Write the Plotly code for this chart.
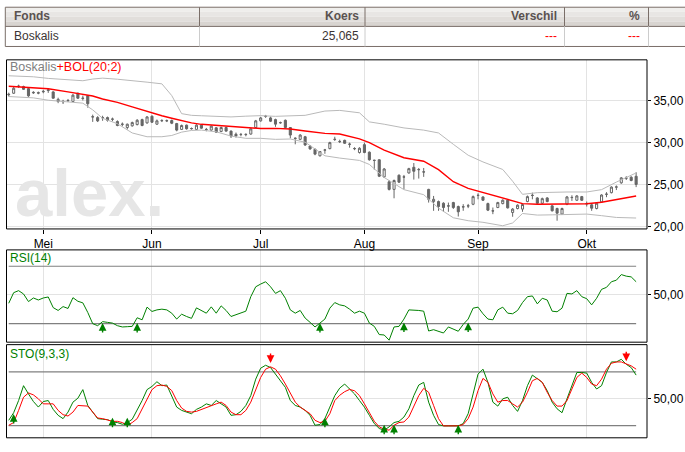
import pandas as pd
import plotly.graph_objects as go

W, H = 685, 452
FONT = "Liberation Sans, Arial, sans-serif"

# handelsdagen (Euronext, 2011)
dates = pd.bdate_range('2011-04-19', '2011-10-17', freq='C',
                       holidays=['2011-04-22', '2011-04-25']).strftime('%Y-%m-%d').tolist()

month_days = ['2011-05-02', '2011-06-01', '2011-07-01', '2011-08-01', '2011-09-01', '2011-10-03']
month_names = ['Mei', 'Jun', 'Jul', 'Aug', 'Sep', 'Okt']

koers_open = [35.70, 35.88, 36.70, 36.67, 36.43, 35.92, 35.95, 36.05, 36.20, 36.04,
              34.90, 34.92, 34.98, 34.90, 35.88, 35.30, 35.60, 33.05, 32.98, 32.95,
              32.98, 32.78, 32.51, 32.20, 31.80, 32.00, 32.15, 32.74, 32.35, 33.14,
              32.20, 32.60, 32.62, 32.63, 32.27, 31.57, 32.08, 31.65, 31.57, 32.08,
              31.55, 31.49, 31.76, 31.33, 31.80, 31.37, 31.00, 30.98, 30.95, 31.02,
              31.80, 32.59, 33.12, 32.94, 32.74, 32.36, 32.66, 31.80, 30.53, 30.39,
              30.70, 29.60, 29.21, 28.43, 29.10, 29.29, 30.40, 30.14, 30.27, 29.82,
              29.30, 28.82, 29.76, 28.86, 27.90, 27.96, 25.92, 25.33, 24.43, 26.12,
              25.92, 26.39, 27.06, 26.80, 26.52, 24.43, 22.98, 22.98, 22.78, 22.47,
              22.86, 22.39, 22.33, 22.45, 22.66, 23.73, 23.53, 22.74, 21.88, 22.27,
              22.74, 23.14, 21.68, 22.15, 22.08, 22.98, 23.73, 23.41, 22.78, 23.41,
              22.47, 22.15, 21.49, 22.66, 23.45, 23.14, 23.57, 22.74, 22.59, 22.15,
              22.94, 23.84, 24.04, 24.70, 25.21, 25.76, 25.88, 25.99]
koers_high = [35.95, 36.66, 36.90, 36.78, 36.55, 36.12, 36.08, 36.27, 36.47, 36.12,
              35.35, 35.10, 35.20, 35.80, 35.95, 35.60, 35.65, 33.33, 33.15, 33.20,
              33.10, 32.98, 32.65, 32.40, 32.27, 32.50, 32.80, 32.85, 33.15, 33.25,
              32.75, 32.78, 32.75, 32.75, 32.35, 32.15, 32.15, 31.80, 32.20, 32.15,
              31.75, 32.05, 31.85, 31.90, 31.90, 31.45, 31.20, 31.15, 31.10, 31.75,
              32.70, 33.05, 33.30, 33.10, 32.85, 32.50, 32.75, 31.85, 30.62, 31.00,
              30.80, 29.70, 29.30, 29.00, 29.25, 30.10, 30.70, 30.35, 30.35, 30.00,
              29.45, 29.45, 30.00, 28.95, 27.96, 28.00, 26.98, 25.53, 25.60, 26.20,
              26.15, 27.00, 27.57, 26.98, 26.98, 24.50, 23.65, 23.10, 22.90, 22.86,
              22.95, 22.50, 22.67, 22.70, 23.70, 23.96, 23.60, 22.85, 22.27, 22.95,
              23.25, 23.25, 22.20, 22.65, 22.75, 23.70, 24.04, 23.50, 23.45, 23.50,
              22.55, 22.25, 22.25, 23.65, 23.73, 23.75, 23.65, 22.98, 22.70, 22.90,
              23.85, 24.10, 24.80, 24.90, 25.90, 26.00, 26.00, 26.47]
koers_low = [35.50, 35.80, 36.52, 36.27, 35.45, 35.80, 35.76, 35.88, 35.92, 35.25,
             34.70, 34.60, 34.85, 34.85, 35.20, 35.02, 34.16, 32.47, 32.45, 32.60,
             32.50, 32.55, 31.95, 31.95, 31.57, 31.90, 32.05, 31.95, 32.25, 32.35,
             32.10, 32.45, 32.45, 32.20, 31.35, 31.50, 31.55, 31.55, 31.50, 31.65,
             31.35, 31.40, 31.15, 31.25, 31.30, 30.55, 30.60, 30.75, 30.75, 30.95,
             31.70, 32.50, 32.95, 32.45, 31.88, 32.25, 31.70, 30.51, 29.80, 30.30,
             29.60, 29.15, 28.50, 28.35, 28.67, 29.20, 30.20, 29.95, 29.85, 29.40,
             29.10, 28.70, 28.74, 27.85, 26.78, 25.90, 25.80, 24.30, 23.37, 25.20,
             24.45, 26.30, 25.60, 25.72, 25.92, 22.86, 21.88, 21.88, 21.76, 21.76,
             22.10, 21.20, 21.88, 22.20, 22.55, 23.25, 23.05, 21.85, 21.48, 22.20,
             22.65, 22.15, 21.17, 22.05, 21.76, 22.90, 23.25, 22.70, 22.70, 22.90,
             21.80, 20.70, 21.40, 22.55, 23.06, 23.05, 23.05, 22.39, 21.88, 22.05,
             22.85, 23.50, 23.95, 24.35, 25.10, 25.55, 25.40, 24.70]
koers_close = [35.75, 36.47, 36.72, 36.35, 35.57, 35.98, 35.90, 36.10, 36.28, 35.29,
               35.15, 34.88, 35.02, 35.65, 35.29, 35.27, 34.63, 33.08, 32.59, 32.98,
               32.66, 32.80, 32.04, 32.18, 32.19, 32.39, 32.66, 32.04, 33.06, 32.43,
               32.59, 32.63, 32.60, 32.31, 31.49, 32.04, 31.65, 31.68, 32.08, 31.72,
               31.57, 31.96, 31.25, 31.80, 31.37, 30.78, 30.80, 30.96, 30.98, 31.64,
               32.59, 32.94, 33.14, 32.55, 32.20, 32.38, 31.80, 30.90, 30.50, 30.90,
               29.72, 29.25, 28.63, 28.94, 29.13, 30.00, 30.38, 30.12, 29.92, 29.80,
               29.28, 29.33, 28.82, 27.96, 27.88, 26.00, 26.86, 24.43, 25.49, 25.29,
               25.90, 26.90, 26.59, 26.78, 26.50, 23.25, 23.25, 22.39, 22.27, 22.45,
               22.27, 21.76, 22.36, 22.47, 23.57, 23.71, 23.14, 21.96, 21.86, 22.86,
               23.14, 22.23, 22.08, 22.55, 22.63, 23.57, 23.71, 22.78, 23.33, 22.98,
               21.88, 21.60, 22.15, 23.53, 23.47, 23.65, 23.14, 22.72, 22.19, 22.78,
               23.76, 23.86, 24.70, 24.72, 25.80, 25.78, 25.49, 25.02]

bol_idx = [0, 5, 8, 12, 15, 17, 19, 22, 25, 28, 31, 33, 35, 37, 39, 42, 45, 48, 51, 54, 57, 60,
           64, 67, 71, 73, 76, 80, 84, 87, 90, 93, 96, 100, 102, 104, 107, 110, 113, 117, 120, 123, 127]
bol_mid = [36.71, 36.55, 36.42, 36.05, 35.78, 35.55, 35.20, 34.80, 34.25, 33.70, 33.20, 32.90, 32.60,
           32.35, 32.18, 32.05, 31.95, 31.82, 31.68, 31.70, 31.62, 31.38, 31.10, 31.02, 30.45, 30.00,
           29.10, 28.20, 27.78, 26.78, 25.35, 24.55, 24.05, 23.45, 23.05, 22.74, 22.66, 22.66, 22.66,
           22.72, 22.90, 23.25, 23.65]
bol_up = [37.96, 37.84, 37.65, 37.45, 37.37, 37.57, 37.68, 37.55, 37.33, 37.20, 37.00, 35.60, 33.45,
          33.25, 33.20, 33.12, 33.06, 33.15, 33.21, 33.13, 33.20, 33.25, 33.76, 33.84, 33.55, 32.47,
          32.19, 31.75, 31.49, 31.15, 29.80, 28.50, 27.70, 26.80, 25.40, 23.84, 24.04, 24.10, 24.12,
          24.12, 24.40, 25.30, 26.39]
bol_low = [35.49, 35.33, 35.05, 34.80, 34.70, 33.90, 32.90, 32.25, 31.15, 30.70, 30.70, 30.85, 31.25,
           31.45, 31.49, 31.29, 30.78, 30.51, 30.51, 30.39, 30.43, 30.05, 28.43, 28.16, 27.88, 27.40,
           25.85, 24.40, 23.80, 22.20, 21.05, 20.70, 20.51, 20.10, 20.43, 21.56, 21.37, 21.40, 21.41,
           21.49, 21.30, 21.09, 21.02]

rsi = [44.2, 51.6, 53.0, 50.7, 45.4, 47.9, 46.5, 47.9, 48.6, 41.2,
       39.2, 41.9, 40.6, 48.1, 45.6, 44.5, 37.8, 30.0, 28.6, 31.4,
       30.9, 30.4, 28.6, 27.7, 27.9, 28.1, 34.1, 32.7, 41.5, 38.5,
       39.6, 40.1, 39.6, 37.3, 33.2, 36.6, 35.0, 33.7, 41.0, 39.2,
       37.3, 41.7, 37.3, 42.4, 39.2, 35.0, 36.2, 37.3, 38.7, 48.8,
       55.7, 57.6, 59.2, 55.7, 51.1, 53.0, 47.7, 39.6, 37.3, 39.2,
       33.9, 30.9, 27.7, 30.4, 33.2, 40.8, 44.7, 43.1, 42.4, 40.1,
       37.3, 38.7, 37.3, 30.4, 28.1, 22.4, 22.1, 18.5, 27.7, 28.1,
       33.2, 39.6, 39.6, 39.2, 38.7, 24.9, 25.8, 24.7, 23.5, 27.7,
       26.3, 24.7, 29.5, 33.2, 40.8, 41.5, 36.9, 33.2, 32.7, 39.6,
       41.5, 37.3, 36.9, 39.2, 44.7, 48.8, 49.3, 43.8, 47.7, 46.5,
       38.7, 38.3, 40.8, 51.1, 50.7, 53.0, 48.8, 47.4, 43.1, 47.7,
       53.9, 55.3, 59.2, 60.3, 64.2, 63.1, 62.6, 59.2]
rsi_levels = [30, 70]
rsi_buy_idx = [19, 26, 63, 80, 93]
rsi_buy_val = [30.5, 30.5, 30.5, 30.8, 30.8]

sto_k = [26.0, 34.5, 48.1, 64.7, 55.5, 47.0, 40.8, 47.0, 48.1, 38.2,
         31.6, 27.9, 35.2, 46.3, 50.7, 60.3, 42.6, 35.2, 27.9, 27.2,
         26.8, 24.2, 23.5, 21.6, 23.5, 27.2, 37.1, 48.1, 60.3, 63.9,
         69.1, 64.7, 65.4, 53.6, 40.8, 37.1, 35.2, 33.4, 38.2, 40.8,
         44.4, 42.6, 48.1, 44.4, 40.8, 31.6, 32.3, 36.0, 42.6, 53.6,
         72.0, 84.2, 87.5, 84.9, 77.6, 70.2, 62.8, 48.1, 42.6, 40.8,
         37.1, 31.6, 20.5, 21.3, 27.9, 40.8, 53.6, 62.0, 66.5, 61.0,
         55.5, 48.1, 40.8, 31.6, 22.4, 16.9, 15.0, 18.7, 23.5, 24.9,
         29.7, 38.9, 53.6, 65.4, 68.4, 46.3, 31.6, 21.3, 19.8, 19.8,
         19.8, 19.8, 22.4, 33.4, 55.5, 77.6, 83.1, 68.4, 46.3, 41.9,
         50.0, 51.8, 42.6, 36.0, 48.1, 64.7, 76.5, 72.8, 68.4, 59.2,
         46.3, 38.9, 34.5, 50.0, 64.7, 79.4, 79.4, 78.7, 68.4, 61.0,
         64.7, 79.4, 91.2, 91.2, 94.1, 88.6, 84.9, 76.5]
sto_d = [20.5, 23.5, 37.1, 51.8, 56.6, 54.4, 50.0, 44.4, 44.4, 44.4,
         37.1, 32.3, 30.8, 35.2, 42.6, 42.6, 41.9, 35.2, 28.6, 27.9,
         26.0, 24.9, 24.9, 23.5, 20.5, 23.5, 27.9, 38.9, 50.0, 60.3,
         64.7, 65.4, 63.9, 59.2, 48.1, 39.7, 36.0, 35.2, 36.0, 38.2,
         40.8, 42.6, 44.4, 46.3, 42.6, 35.2, 32.3, 32.3, 37.1, 46.3,
         59.2, 73.9, 83.1, 85.7, 83.1, 75.7, 66.5, 55.5, 46.3, 40.8,
         37.1, 33.4, 26.0, 23.5, 24.9, 33.4, 48.0, 54.0, 58.0, 60.5,
         59.0, 53.6, 44.4, 35.2, 24.9, 18.7, 16.1, 15.0, 20.5, 23.5,
         24.2, 29.7, 40.8, 53.6, 61.7, 57.3, 42.6, 27.9, 19.8, 19.8,
         19.8, 19.8, 21.3, 27.9, 40.8, 59.2, 72.8, 68.4, 55.5, 46.3,
         48.1, 48.1, 44.4, 40.8, 46.3, 57.3, 70.2, 72.8, 68.4, 57.3,
         48.1, 41.9, 41.9, 48.1, 61.0, 73.9, 78.7, 73.9, 66.5, 64.7,
         72.0, 83.1, 89.7, 91.2, 91.2, 88.6, 86.8, 83.1]
sto_levels = [20, 80]
sto_buy_idx = [1, 21, 24, 64, 76, 78, 91]
sto_buy_val = [33, 29, 29, 29, 21, 21, 21]
sto_sell_idx = [53, 125]
sto_sell_val = [90, 92]


def fx(px):
    return px / W


def fy(py):
    return 1 - py / H


GREEN = '#008000'
RED = '#ff0000'
GRID = '#e3e3e3'

fig = go.Figure()

fig.add_trace(go.Candlestick(
    x=dates, open=koers_open, high=koers_high, low=koers_low, close=koers_close,
    xaxis='x', yaxis='y', whiskerwidth=0, hoverinfo='skip',
    increasing=dict(line=dict(color='#666666', width=1), fillcolor='#ffffff'),
    decreasing=dict(line=dict(color='#666666', width=1), fillcolor='#666666')))

bol_x = [dates[k] for k in bol_idx]
for vals, col, w in [(bol_up, '#b9b9b9', 1), (bol_low, '#b9b9b9', 1), (bol_mid, RED, 1.4)]:
    fig.add_trace(go.Scatter(x=bol_x, y=vals, mode='lines', xaxis='x', yaxis='y',
                             line=dict(color=col, width=w), hoverinfo='skip'))

for lv in rsi_levels:
    fig.add_trace(go.Scatter(x=[dates[0], dates[-1]], y=[lv, lv], mode='lines', xaxis='x2', yaxis='y2',
                             line=dict(color='#808080', width=1.2), hoverinfo='skip'))
fig.add_trace(go.Scatter(x=dates, y=rsi, mode='lines', xaxis='x2', yaxis='y2',
                         line=dict(color=GREEN, width=1), hoverinfo='skip'))

for lv in sto_levels:
    fig.add_trace(go.Scatter(x=[dates[0], dates[-1]], y=[lv, lv], mode='lines', xaxis='x3', yaxis='y3',
                             line=dict(color='#808080', width=1.2), hoverinfo='skip'))
fig.add_trace(go.Scatter(x=dates, y=sto_k, mode='lines', xaxis='x3', yaxis='y3',
                         line=dict(color=GREEN, width=1), hoverinfo='skip'))
fig.add_trace(go.Scatter(x=dates, y=sto_d, mode='lines', xaxis='x3', yaxis='y3',
                         line=dict(color=RED, width=1), hoverinfo='skip'))

x_dom = [fx(6.5), fx(647)]
x_common = dict(type='category', categoryorder='array', categoryarray=dates,
                range=[-0.45, 129.2], domain=x_dom, tickvals=month_days,
                showgrid=True, gridcolor=GRID, gridwidth=1, zeroline=False, showline=False,
                fixedrange=True)
y_common = dict(side='right', showgrid=True, gridcolor=GRID, gridwidth=1, zeroline=False,
                showline=False, ticks='outside', ticklen=3, tickcolor='#000000',
                tickformat='.2f', tickfont=dict(size=12, color='#000000'), fixedrange=True)

fig.update_layout(
    width=W, height=H, autosize=False,
    margin=dict(l=0, r=0, t=0, b=0),
    paper_bgcolor='white', plot_bgcolor='white',
    showlegend=False, separators=',.', boxgap=0.4,
    font=dict(family=FONT, size=12, color='#000000'),
    xaxis=dict(**x_common, anchor='y', ticktext=month_names, ticks='outside', ticklen=4,
               tickcolor='#000000', tickfont=dict(size=12, color='#000000'),
               rangeslider=dict(visible=False)),
    xaxis2=dict(**x_common, anchor='y2', showticklabels=False, ticks=''),
    xaxis3=dict(**x_common, anchor='y3', showticklabels=False, ticks=''),
    yaxis=dict(**y_common, anchor='x', domain=[fy(231.5), fy(60.5)], range=[19.72, 39.86],
               tickvals=[20, 25, 30, 35]),
    yaxis2=dict(**y_common, anchor='x2', domain=[fy(346), fy(252.7)], range=[17.1, 81.4],
                tickvals=[50]),
    yaxis3=dict(**y_common, anchor='x3', domain=[fy(442.7), fy(348.5)], range=[6.5, 110.5],
                tickvals=[50]),
)

shapes = []
# tabel bovenaan
BRD = '#7a6e68'
bands = [(7.3, 12, '#efeeec'), (12, 17, '#e8e6e4'), (17, 22, '#e1dedb'), (22, 26.7, '#d8d4d0')]
for y0, y1, col in bands:
    shapes.append(dict(type='rect', xref='paper', yref='paper', x0=fx(5.3), x1=fx(700),
                       y0=fy(y1), y1=fy(y0), fillcolor=col, line=dict(width=0), layer='below'))
shapes.append(dict(type='rect', xref='paper', yref='paper', x0=fx(5.3), x1=fx(700), y0=fy(47),
                   y1=fy(7.3), line=dict(color=BRD, width=1), fillcolor='rgba(0,0,0,0)'))
shapes.append(dict(type='line', xref='paper', yref='paper', x0=fx(5.3), x1=fx(700), y0=fy(26.7),
                   y1=fy(26.7), line=dict(color=BRD, width=1)))
for cx in [199.5, 365, 564.5, 648.5]:
    shapes.append(dict(type='line', xref='paper', yref='paper', x0=fx(cx), x1=fx(cx), y0=fy(26.7),
                       y1=fy(7.3), line=dict(color=BRD, width=1)))
    shapes.append(dict(type='line', xref='paper', yref='paper', x0=fx(cx), x1=fx(cx), y0=fy(47),
                       y1=fy(26.7), line=dict(color='#cccccc', width=1)))
# kaders van de grafieken
for top, bottom in [(60.5, 231.5), (252.7, 346), (348.5, 442.7)]:
    shapes.append(dict(type='rect', xref='paper', yref='paper', x0=fx(6.5), x1=fx(647),
                       y0=fy(bottom), y1=fy(top), line=dict(color='#000000', width=1),
                       fillcolor='rgba(0,0,0,0)'))
fig.update_layout(shapes=shapes)

ann = []


def text(x, y, s, anchor='left', size=12.5, color='#000000'):
    ann.append(dict(x=fx(x), y=fy(y), xref='paper', yref='paper', text=s, showarrow=False,
                    xanchor=anchor, yanchor='middle', font=dict(size=size, color=color, family=FONT)))


HEAD = '#5a5250'
text(11.5, 16.5, '<b>Fonds</b>', size=12, color=HEAD)
text(361, 16.5, '<b>Koers</b>', 'right', size=12, color=HEAD)
text(558.5, 16.5, '<b>Verschil</b>', 'right', size=12, color=HEAD)
text(642, 16.5, '<b>%</b>', 'right', size=12, color=HEAD)
text(11.5, 36.7, 'Boskalis', size=12, color='#3c3434')
text(361, 36.7, '25,065', 'right', size=12, color='#3c3434')
text(558.5, 36.7, '---', 'right', size=12, color=RED)
text(642, 36.7, '---', 'right', size=12, color=RED)

# watermerk
text(13, 195, '<b>alex.</b>', size=67, color='#e6e6e6')

text(8, 67.5, "<span style='color:#808080'>Boskalis</span><span style='color:#ff0000'>+BOL(20;2)</span>")
text(8, 261, 'RSI(14)', size=12, color=GREEN)
text(8, 357.5, 'STO(9,3,3)', size=12, color=GREEN)


def arrow(xr, yr, k, v, col, ay):
    ann.append(dict(x=dates[k], y=v, xref=xr, yref=yr, text='', showarrow=True, ax=0, ay=ay,
                    arrowhead=2, arrowsize=1.1, arrowwidth=1.4, arrowcolor=col, standoff=0))


for k, v in zip(rsi_buy_idx, rsi_buy_val):
    arrow('x2', 'y2', k, v, GREEN, 11)
for k, v in zip(sto_buy_idx, sto_buy_val):
    arrow('x3', 'y3', k, v, GREEN, 11)
for k, v in zip(sto_sell_idx, sto_sell_val):
    arrow('x3', 'y3', k, v, RED, -11)

fig.update_layout(annotations=ann)

# de pagina zelf heeft standaard 8px marge; die weghalen
fig.write_html("out.html", config={'displayModeBar': False},
               post_script="document.body.style.margin='0px';")
